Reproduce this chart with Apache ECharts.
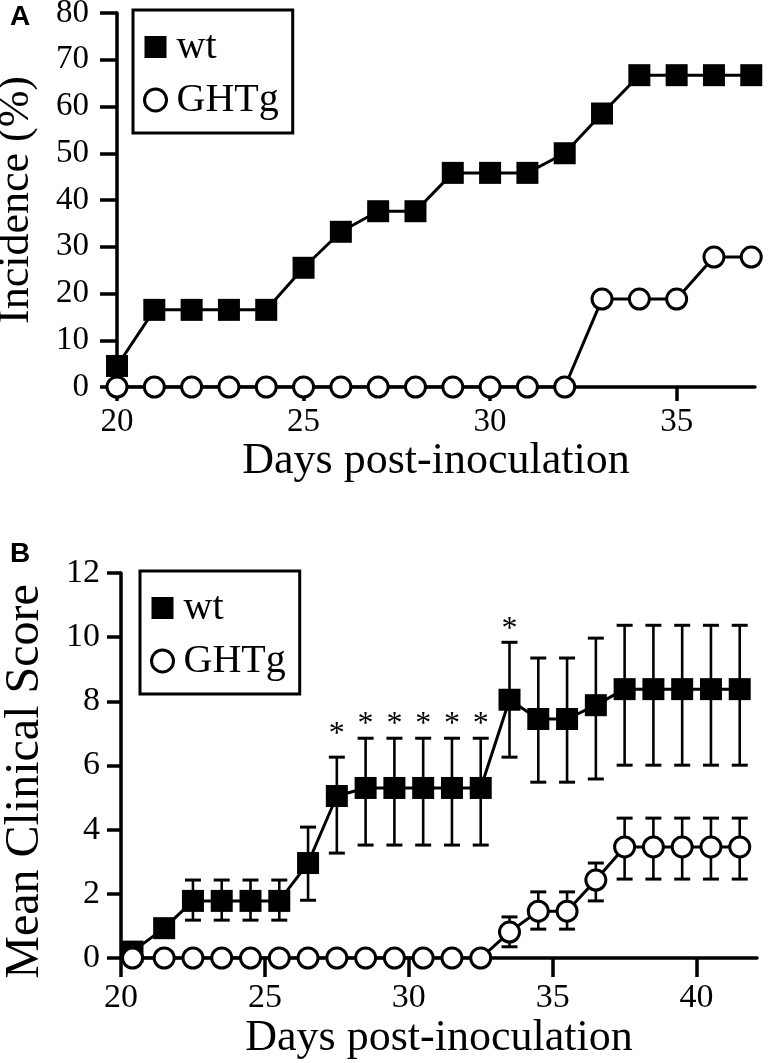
<!DOCTYPE html>
<html>
<head>
<meta charset="utf-8">
<script src="https://cdn.jsdelivr.net/npm/echarts@6/dist/echarts.min.js"></script>
<style>
html,body{margin:0;padding:0;background:#fff;}
#chart{width:768px;height:1063px;}
</style>
</head>
<body>
<div id="chart"></div>
<script>
// ---------- Panel A: incidence ----------
const daysA = [20,21,22,23,24,25,26,27,28,29,30,31,32,33,34,35,36,37];
const wtA   = [4.5,16.5,16.5,16.5,16.5,25.5,33.2,37.6,37.6,45.8,45.8,45.8,50,58.5,66.7,66.7,66.7,66.7];
const ghtgA = [0,0,0,0,0,0,0,0,0,0,0,0,0,18.8,18.8,18.8,27.8,27.8];
const xTicksA = [20,25,30,35];

// ---------- Panel B: mean clinical score ----------
const daysB = [20.4,21.5,22.5,23.5,24.5,25.5,26.5,27.5,28.5,29.5,30.5,31.5,32.5,33.5,34.5,35.5,36.5,37.5,38.5,39.5,40.5,41.5];
const wtB     = [0.2,0.93,1.78,1.78,1.78,1.78,2.96,5.05,5.3,5.3,5.3,5.3,5.3,8.05,7.45,7.45,7.88,8.38,8.38,8.38,8.38,8.38];
const wtBLow  = [null,null,1.18,1.18,1.18,1.18,1.8,3.27,3.52,3.52,3.52,3.52,3.52,6.26,5.48,5.48,5.58,6.01,6.01,6.01,6.01,6.01];
const wtBHigh = [null,null,2.43,2.43,2.43,2.43,4.08,6.26,6.85,6.85,6.85,6.85,6.85,9.84,9.35,9.35,9.97,10.37,10.37,10.37,10.37,10.37];
const ghtgB     = [0,0,0,0,0,0,0,0,0,0,0,0,0,0.81,1.46,1.46,2.43,3.46,3.46,3.46,3.46,3.46];
const ghtgBLow  = [null,null,null,null,null,null,null,null,null,null,null,null,null,0.35,0.9,0.9,1.78,2.46,2.46,2.46,2.46,2.46];
const ghtgBHigh = [null,null,null,null,null,null,null,null,null,null,null,null,null,1.28,2.06,2.06,2.96,4.36,4.36,4.36,4.36,4.36];
const sigDays  = [27.5,28.5,29.5,30.5,31.5,32.5,33.5];
const sigY     = [6.95,7.29,7.29,7.29,7.29,7.29,10.25];
const xTicksB = [20,25,30,35,40];

const SERIF = '"Liberation Serif","Times New Roman",serif';

function pairs(xs, ys){ return xs.map((x,i)=>[x, ys[i]]); }
function errRows(xs, lo, hi){
  const out=[]; xs.forEach((x,i)=>{ if(lo[i]!=null && hi[i]!=null) out.push([x, lo[i], hi[i]]); }); return out;
}

function renderErr(params, api){
  const x = api.value(0), lo = api.value(1), hi = api.value(2);
  const a = api.coord([x, lo]), b = api.coord([x, hi]);
  const hw = 8;
  const st = {stroke:'#000', lineWidth:2.6};
  return {type:'group', children:[
    {type:'line', shape:{x1:a[0], y1:a[1], x2:b[0], y2:b[1]}, style:st},
    {type:'line', shape:{x1:b[0]-hw, y1:b[1], x2:b[0]+hw, y2:b[1]}, style:{stroke:'#000', lineWidth:3}},
    {type:'line', shape:{x1:a[0]-hw, y1:a[1], x2:a[0]+hw, y2:a[1]}, style:{stroke:'#000', lineWidth:3}}
  ]};
}
function renderStar(params, api){
  const p = api.coord([api.value(0), api.value(1)]);
  return {type:'text', x:p[0], y:p[1], style:{text:'*', font:'32px ' + SERIF, fill:'#000', align:'center', verticalAlign:'middle'}};
}

function legendCfg(left, top){
  return {
    left: left, top: top, orient: 'vertical', selectedMode: false,
    data: [
      {name:'wt', icon:'rect', itemStyle:{color:'#000', borderWidth:0}},
      {name:'GHTg', icon:'circle', itemStyle:{color:'#fff', borderColor:'#000', borderWidth:3}}
    ],
    itemWidth: 22, itemHeight: 22, itemGap: 13,
    textStyle: {fontFamily: SERIF, fontSize: 40, color:'#000', padding:[0,0,0,5]},
    borderColor:'#000', borderWidth:3, padding:[17,14,13,10],
    backgroundColor:'#fff'
  };
}

const axisLineStyle = {show:true, lineStyle:{color:'#000', width:3.5}};

const option = {
  animation: false,
  backgroundColor: '#fff',
  grid: [
    {left:117, top:13, width:638, height:374, containLabel:false, outerBoundsMode:'none'},
    {left:121, top:573, width:636, height:385, containLabel:false, outerBoundsMode:'none'}
  ],
  xAxis: [
    {gridIndex:0, type:'value', min:20, max:37.1,
     axisLine:axisLineStyle, splitLine:{show:false},
     axisTick:{show:true, length:14, lineStyle:{color:'#000', width:3.5}, customValues:xTicksA},
     axisLabel:{customValues:xTicksA, fontFamily:SERIF, fontSize:33, color:'#000', margin:19},
     name:'Days post-inoculation', nameLocation:'middle', nameGap:48,
     nameTextStyle:{fontFamily:SERIF, fontSize:44, color:'#000'}},
    {gridIndex:1, type:'value', min:20, max:42.1,
     axisLine:axisLineStyle, splitLine:{show:false},
     axisTick:{show:true, length:19, lineStyle:{color:'#000', width:3.5}, customValues:xTicksB},
     axisLabel:{customValues:xTicksB, fontFamily:SERIF, fontSize:34, color:'#000', margin:23},
     name:'Days post-inoculation', nameLocation:'middle', nameGap:58,
     nameTextStyle:{fontFamily:SERIF, fontSize:44, color:'#000'}}
  ],
  yAxis: [
    {gridIndex:0, type:'value', min:0, max:80, interval:10,
     axisLine:axisLineStyle, splitLine:{show:false},
     axisTick:{show:true, length:17, lineStyle:{color:'#000', width:3.5}},
     axisLabel:{fontFamily:SERIF, fontSize:33, color:'#000', margin:28},
     name:'Incidence (%)', nameLocation:'middle', nameGap:79,
     nameTextStyle:{fontFamily:SERIF, fontSize:44, color:'#000'}},
    {gridIndex:1, type:'value', min:0, max:12, interval:2,
     axisLine:axisLineStyle, splitLine:{show:false},
     axisTick:{show:true, length:14, lineStyle:{color:'#000', width:3.5}},
     axisLabel:{fontFamily:SERIF, fontSize:34, color:'#000', margin:21},
     name:'Mean Clinical Score', nameLocation:'middle', nameGap:72,
     nameTextStyle:{fontFamily:SERIF, fontSize:48, color:'#000', padding:[0,32,0,0]}}
  ],
  legend: [legendCfg(133, 10), legendCfg(140, 571)],
  graphic: [
    {type:'text', left:10, top:3, style:{text:'A', font:'bold 28px "Liberation Sans",Arial,sans-serif', fill:'#000'}},
    {type:'text', left:10, top:540, style:{text:'B', font:'bold 28px "Liberation Sans",Arial,sans-serif', fill:'#000'}}
  ],
  series: [
    {name:'wt', type:'line', xAxisIndex:0, yAxisIndex:0, data:pairs(daysA, wtA),
     symbol:'rect', symbolSize:22, itemStyle:{color:'#000'}, lineStyle:{color:'#000', width:3}, z:3},
    {name:'GHTg', type:'line', xAxisIndex:0, yAxisIndex:0, data:pairs(daysA, ghtgA),
     symbol:'circle', symbolSize:20, itemStyle:{color:'#fff', borderColor:'#000', borderWidth:3}, lineStyle:{color:'#000', width:3}, z:4},
    {name:'wtErr', type:'custom', xAxisIndex:1, yAxisIndex:1, data:errRows(daysB, wtBLow, wtBHigh),
     encode:{x:0, y:[1,2]}, renderItem:renderErr, z:2},
    {name:'ghtgErr', type:'custom', xAxisIndex:1, yAxisIndex:1, data:errRows(daysB, ghtgBLow, ghtgBHigh),
     encode:{x:0, y:[1,2]}, renderItem:renderErr, z:2},
    {name:'wt', type:'line', xAxisIndex:1, yAxisIndex:1, data:pairs(daysB, wtB),
     symbol:'rect', symbolSize:22, itemStyle:{color:'#000'}, lineStyle:{color:'#000', width:3}, z:3},
    {name:'GHTg', type:'line', xAxisIndex:1, yAxisIndex:1, data:pairs(daysB, ghtgB),
     symbol:'circle', symbolSize:20, itemStyle:{color:'#fff', borderColor:'#000', borderWidth:3}, lineStyle:{color:'#000', width:3}, z:4},
    {name:'sig', type:'custom', xAxisIndex:1, yAxisIndex:1, data:pairs(sigDays, sigY),
     encode:{x:0, y:1}, renderItem:renderStar, z:5}
  ]
};

const chart = echarts.init(document.getElementById('chart'), null, {renderer:'canvas'});
chart.setOption(option);
</script>
</body>
</html>
